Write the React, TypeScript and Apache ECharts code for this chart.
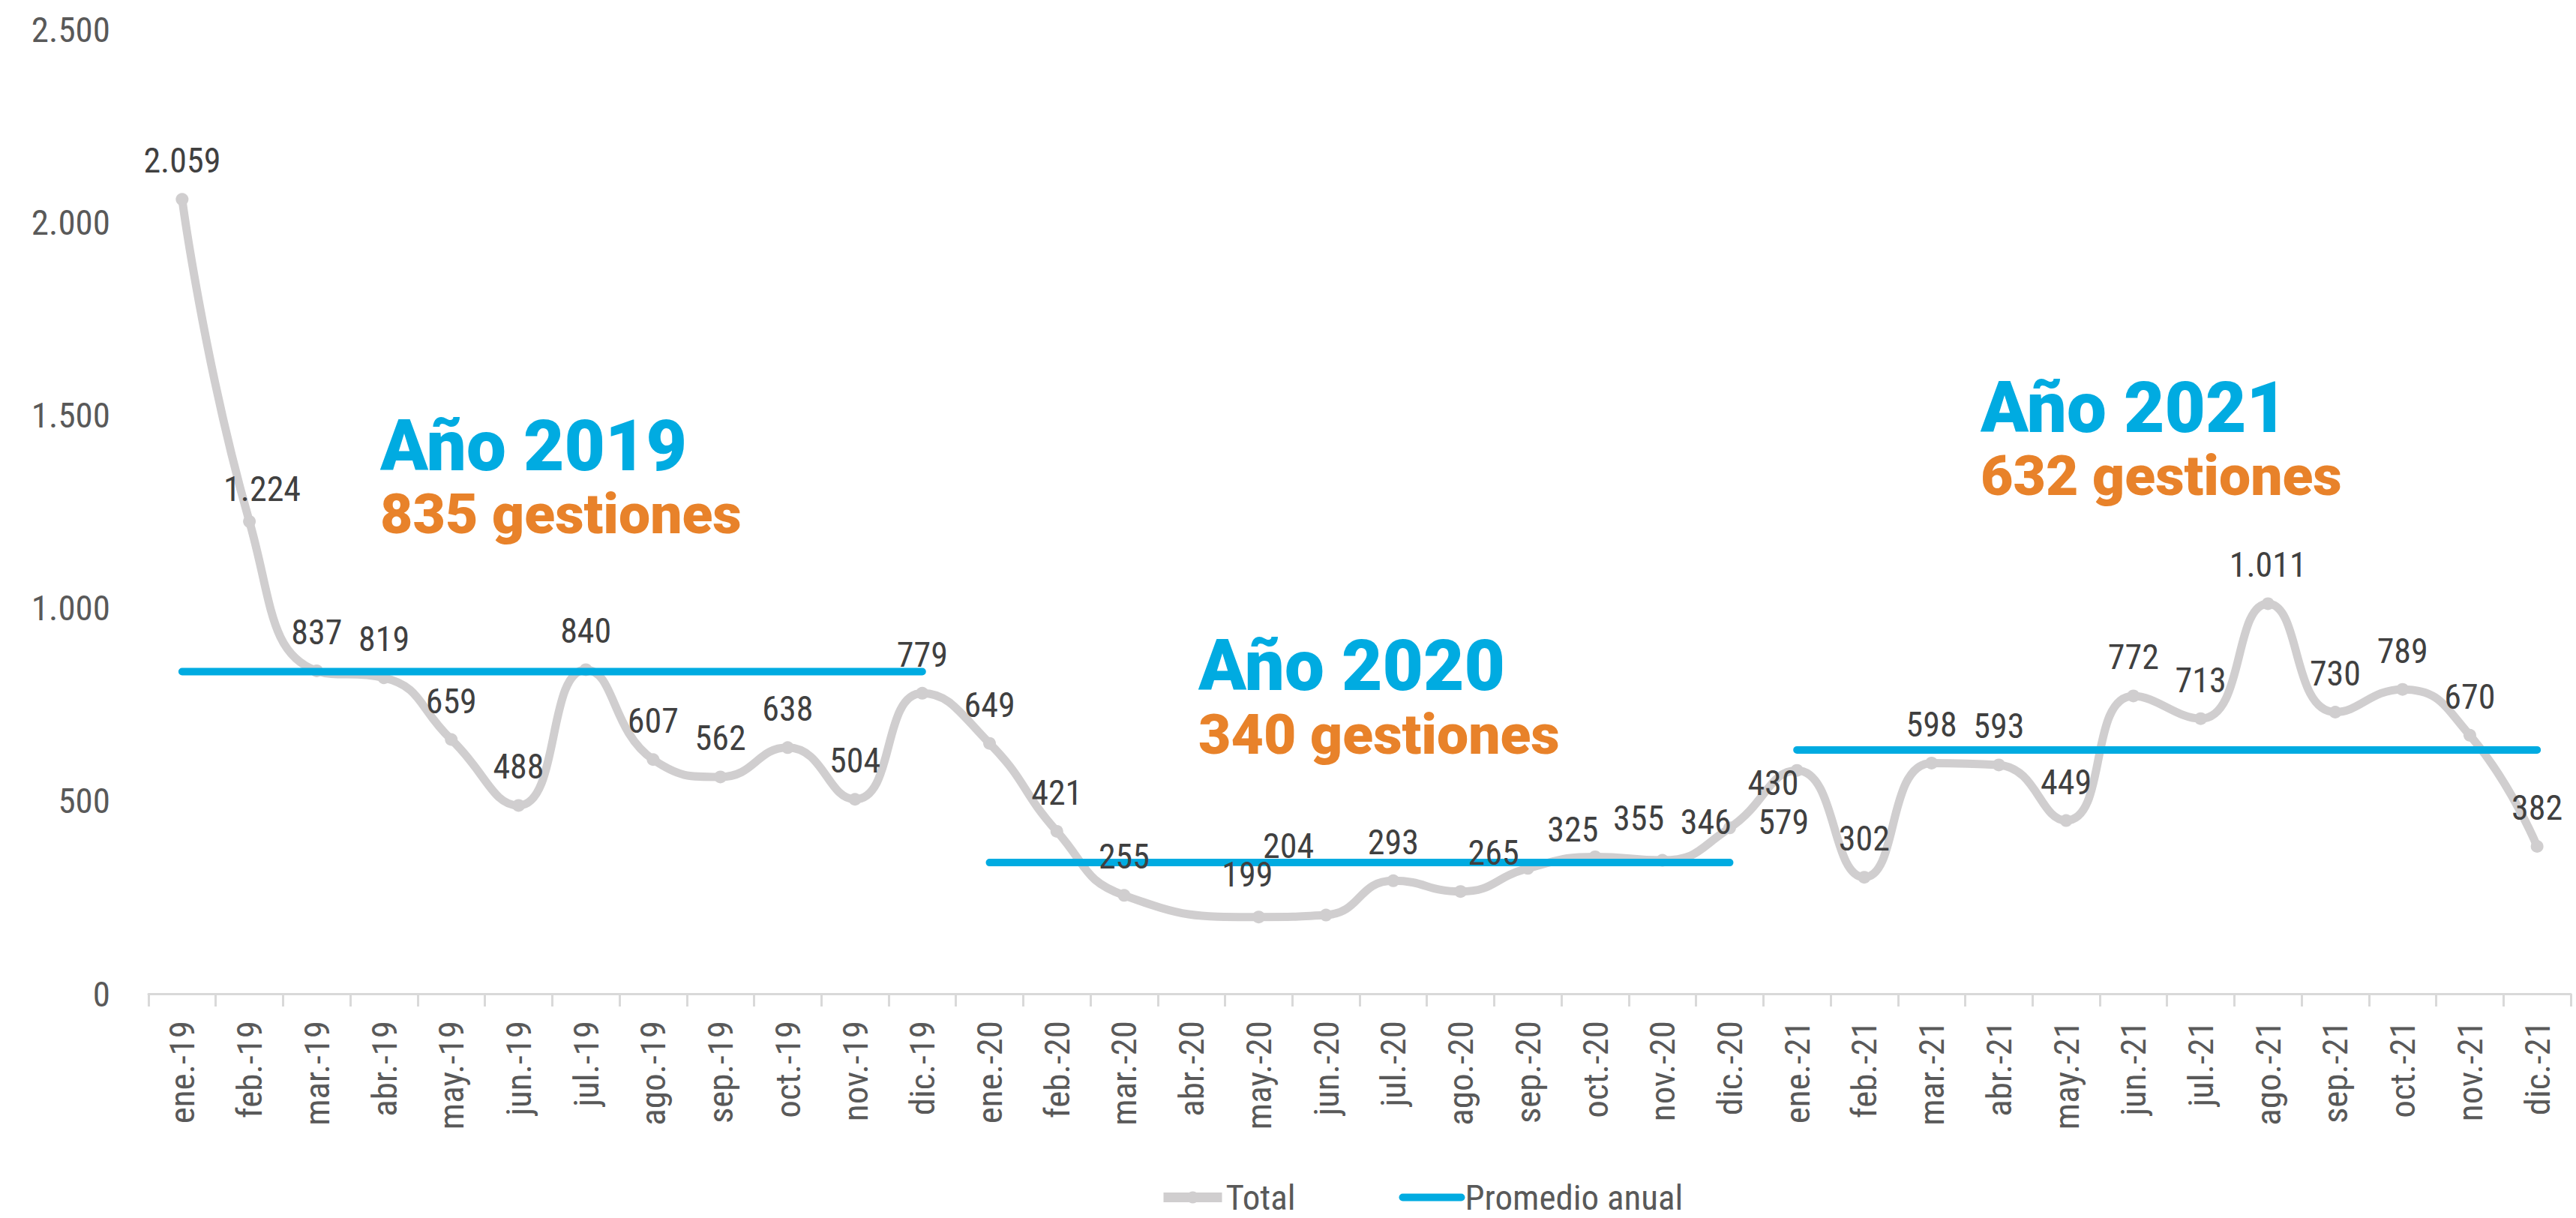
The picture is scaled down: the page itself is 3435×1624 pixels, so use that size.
import React, { useEffect, useRef } from 'react';
import * as echarts from 'echarts';

const categories = [
  'ene.-19', 'feb.-19', 'mar.-19', 'abr.-19', 'may.-19', 'jun.-19', 'jul.-19', 'ago.-19', 'sep.-19', 'oct.-19', 'nov.-19', 'dic.-19',
  'ene.-20', 'feb.-20', 'mar.-20', 'abr.-20', 'may.-20', 'jun.-20', 'jul.-20', 'ago.-20', 'sep.-20', 'oct.-20', 'nov.-20', 'dic.-20',
  'ene.-21', 'feb.-21', 'mar.-21', 'abr.-21', 'may.-21', 'jun.-21', 'jul.-21', 'ago.-21', 'sep.-21', 'oct.-21', 'nov.-21', 'dic.-21',
];

const totalValues: (number | null)[] = [
  2059, 1224, 837, 819, 659, 488, 840, 607, 562, 638, 504, 779,
  649, 421, 255, null, 199, 204, 293, 265, 325, 355, 346, 430,
  579, 302, 598, 593, 449, 772, 713, 1011, 730, 789, 670, 382,
];

const yearTitles = ['Año 2019', 'Año 2020', 'Año 2021'];
const promedioAnual = [835, 340, 632];
const gestionesTexts = ['835 gestiones', '340 gestiones', '632 gestiones'];

const yMin = 0;
const yMax = 2500;
const yInterval = 500;

// label nudges (px) for a few data labels that sit off-centre in the original
const labelNudges: Record<number, [number, number]> = {
  1: [17, 8],
  16: [-15, -5],
  17: [-50, -41],
  19: [44, 0],
  20: [60, 0],
  21: [58, 0],
  22: [58, 0],
  23: [58, -8],
  24: [-18, 120],
};

const BLUE = '#00ABE1';
const ORANGE = '#E8822A';
const GREY = '#D0CECF';
const FONT = "'Liberation Sans Narrow', 'Roboto Condensed', Roboto, sans-serif";

const fmt = (v: number) => String(v).replace(/\B(?=(\d{3})+(?!\d))/g, '.');

export default function App() {
  const ref = useRef<HTMLDivElement>(null);

  useEffect(() => {
    if (!ref.current) return;
    const chart = echarts.init(ref.current, undefined, { renderer: 'svg' });

    const promedioSeries = promedioAnual.map((v, yi) => ({
      name: 'Promedio anual',
      type: 'line',
      data: categories.map((_, i) => (Math.floor(i / 12) === yi ? v : null)),
      symbol: 'none',
      showSymbol: false,
      connectNulls: false,
      lineStyle: { color: BLUE, width: 10, cap: 'round' },
      itemStyle: { color: BLUE },
      z: 3,
      silent: true,
    }));

    const labelData = totalValues.map((v, i) => {
      const n = labelNudges[i];
      if (v === null) return null;
      return n ? { value: v, label: { offset: n } } : v;
    });

    const annotations: any[] = [];
    const annPos = [
      { x: 507, y1: 595, y2: 685 },
      { x: 1598, y1: 888, y2: 979 },
      { x: 2641, y1: 544, y2: 634 },
    ];
    yearTitles.forEach((t, i) => {
      annotations.push({
        type: 'text',
        x: annPos[i].x,
        y: annPos[i].y1,
        style: {
          text: t,
          fill: BLUE,
          font: '900 94px Roboto',
          textAlign: 'left',
          textVerticalAlign: 'middle',
        },
        z: 10,
      });
      annotations.push({
        type: 'text',
        x: annPos[i].x,
        y: annPos[i].y2,
        style: {
          text: gestionesTexts[i],
          fill: ORANGE,
          font: '900 75px Roboto',
          textAlign: 'left',
          textVerticalAlign: 'middle',
        },
        z: 10,
      });
    });

    chart.setOption({
      animation: false,
      backgroundColor: '#ffffff',
      grid: { left: 198, right: 7, top: 39, bottom: 299, containLabel: false },
      legend: {
        data: [
          { name: 'Total', lineStyle: { color: GREY, width: 13 }, itemStyle: { color: GREY } },
          {
            name: 'Promedio anual',
            lineStyle: { color: BLUE, width: 10, cap: 'round' },
            itemStyle: { opacity: 0 },
          },
        ],
        left: 1545,
        top: 1573,
        itemWidth: 78,
        itemHeight: 20,
        itemGap: 138,
        padding: 0,
        textStyle: { fontSize: 47, color: '#595959', fontFamily: FONT, lineHeight: 44 },
      },
      xAxis: {
        type: 'category',
        data: categories,
        boundaryGap: true,
        axisLine: { show: true, lineStyle: { color: '#D9D9D9', width: 3 } },
        axisTick: { show: true, length: 17, lineStyle: { color: '#D9D9D9', width: 3 } },
        axisLabel: {
          rotate: 90,
          margin: 36,
          interval: 0,
          fontSize: 47,
          color: '#595959',
          fontFamily: FONT,
        },
      },
      yAxis: {
        type: 'value',
        min: yMin,
        max: yMax,
        interval: yInterval,
        splitLine: { show: false },
        axisLine: { show: false },
        axisTick: { show: false },
        axisLabel: {
          margin: 51,
          fontSize: 47,
          color: '#595959',
          fontFamily: FONT,
          formatter: (v: number) => fmt(v),
        },
      },
      series: [
        {
          name: 'Total',
          type: 'line',
          data: totalValues,
          smooth: 0.5,
          connectNulls: true,
          symbol: 'circle',
          symbolSize: 17,
          lineStyle: { color: GREY, width: 11 },
          itemStyle: { color: GREY },
          z: 2,
          silent: true,
        },
        ...promedioSeries,
        {
          name: 'Total etiquetas',
          type: 'line',
          data: labelData,
          connectNulls: true,
          symbol: 'circle',
          symbolSize: 17,
          lineStyle: { width: 0, opacity: 0 },
          itemStyle: { color: 'rgba(0,0,0,0)' },
          z: 5,
          silent: true,
          label: {
            show: true,
            position: 'top',
            distance: 20,
            fontSize: 46,
            lineHeight: 46,
            color: '#404040',
            fontFamily: FONT,
            formatter: (p: any) => fmt(typeof p.value === 'object' ? p.value.value : p.value),
          },
        },
      ],
      graphic: annotations,
    });

    return () => chart.dispose();
  }, []);

  return (
    <div
      ref={ref}
      style={{ position: 'absolute', left: 0, top: 0, width: 3435, height: 1624, background: '#fff' }}
    />
  );
}
